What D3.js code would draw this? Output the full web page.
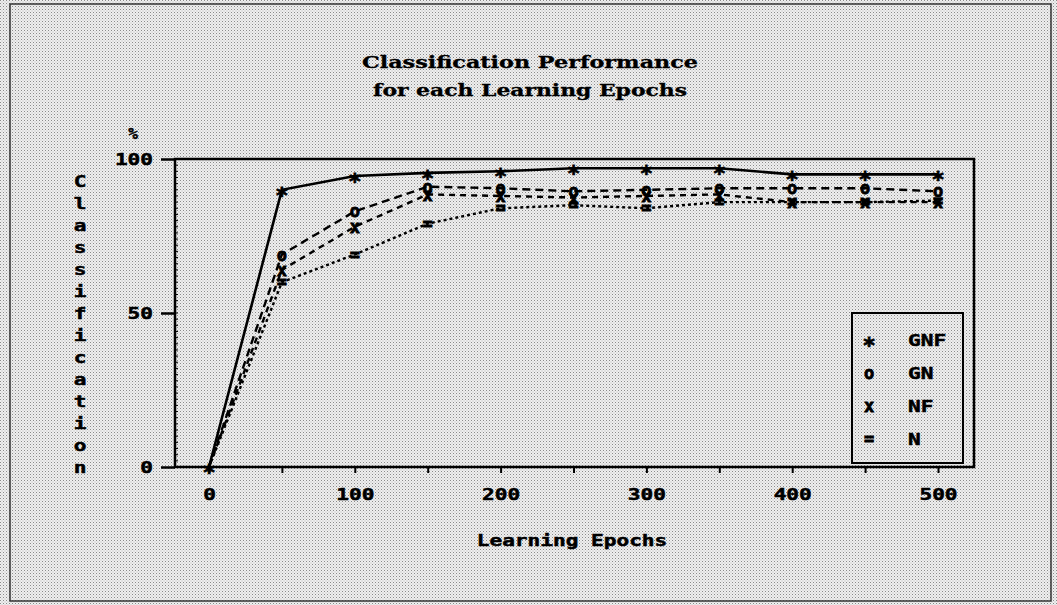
<!DOCTYPE html>
<html lang="en">
<head>
  <meta charset="UTF-8">
  <title>Classification Performance</title>
  <script src="https://d3js.org/d3.v7.min.js"></script>
  <style>
    body { margin: 0; background: #fff; }
    text { font-family: "DejaVu Sans Mono", "Liberation Mono", monospace; font-weight: bold; fill: #000; stroke: #000; stroke-width: 0.5px; }
    .tick text { font-size: 16px; }
    .title { font-family: "DejaVu Serif", "Liberation Serif", serif; font-size: 16px; text-anchor: middle; stroke-width: 0.3px; }
    .axis-label { font-size: 16px; }
    .mark { stroke-width: 0.8px; }
  </style>
</head>
<body>
  <svg id="chart" width="1057" height="605"></svg>

  <script>
    // Data
    const epochs = [0, 50, 100, 150, 200, 250, 300, 350, 400, 450, 500];
    const gnf = [0, 90, 94.5, 95.5, 96, 97, 97, 97, 95, 95, 95];
    const gn = [0, 69, 83, 91, 90.5, 89.5, 90, 90.5, 90.5, 90.5, 89.5];
    const nf = [0, 64, 78, 88.5, 88, 87.5, 88, 88.5, 86, 86, 86];
    const n = [0, 60, 69, 79, 84, 85, 84, 86, 86, 86, 86.5];
    const seriesNames = ["GNF", "GN", "NF", "N"];
    const seriesMarks = ["*", "o", "x", "="];
    const xTicks = [0, 50, 100, 150, 200, 250, 300, 350, 400, 450, 500];
    const yTicks = [0, 50, 100];

    const series = [
      { name: seriesNames[0], mark: seriesMarks[0], values: gnf, dash: null, width: 2.6 },
      { name: seriesNames[1], mark: seriesMarks[1], values: gn, dash: "8,5", width: 2.4 },
      { name: seriesNames[2], mark: seriesMarks[2], values: nf, dash: "6,5", width: 2.4 },
      { name: seriesNames[3], mark: seriesMarks[3], values: n, dash: "3,3", width: 2.4 }
    ];

    const charW = 12.7; // the old bitmap font is wide

    const svg = d3.select("#chart");

    // halftone-ish background
    const pat = svg.append("defs").append("pattern")
      .attr("id", "dots").attr("width", 3).attr("height", 3)
      .attr("patternUnits", "userSpaceOnUse");
    pat.append("rect").attr("width", 3).attr("height", 3).attr("fill", "#efefef");
    pat.append("rect").attr("x", 0).attr("y", 0).attr("width", 1).attr("height", 1).attr("fill", "#8a8a8a");
    pat.append("rect").attr("x", 1.5).attr("y", 1.5).attr("width", 1).attr("height", 1).attr("fill", "#b4b4b4");

    svg.append("rect").attr("width", 1057).attr("height", 605).attr("fill", "url(#dots)");
    svg.append("rect")
      .attr("x", 10).attr("y", 4).attr("width", 1041).attr("height", 597)
      .attr("fill", "none").attr("stroke", "#333").attr("stroke-width", 1.5);

    const frame = { left: 175, right: 974, top: 159, bottom: 467 };

    const x = d3.scaleLinear().domain([0, 500]).range([209, 938]);
    const y = d3.scaleLinear().domain([0, 100]).range([frame.bottom, frame.top]);

    function widen(sel) {
      sel.filter(function () { return this.textContent.length > 0; })
        .attr("textLength", function () { return this.textContent.length * charW; })
        .attr("lengthAdjust", "spacingAndGlyphs");
    }

    // Title
    svg.append("text").attr("class", "title").attr("x", 530).attr("y", 68)
      .attr("textLength", 336).attr("lengthAdjust", "spacingAndGlyphs")
      .text("Classification Performance");
    svg.append("text").attr("class", "title").attr("x", 530).attr("y", 96)
      .attr("textLength", 314).attr("lengthAdjust", "spacingAndGlyphs")
      .text("for each Learning Epochs");

    // Frame
    svg.append("path")
      .attr("d", `M${frame.left},${frame.top}H${frame.right}V${frame.bottom}H${frame.left}Z`)
      .attr("fill", "none").attr("stroke", "#000").attr("stroke-width", 2.5);

    // minor ticks on the inside of the y axis
    svg.append("g").selectAll("line")
      .data(d3.range(2, 100, 2))
      .join("line")
      .attr("x1", frame.left).attr("x2", frame.left + 3)
      .attr("y1", (d) => y(d)).attr("y2", (d) => y(d))
      .attr("stroke", "#000").attr("stroke-width", 1);

    // Y axis
    const yAxis = svg.append("g")
      .attr("transform", `translate(${frame.left},0)`)
      .call(d3.axisLeft(y).tickValues(yTicks).tickSize(14).tickPadding(8).tickFormat(d3.format("d")));
    yAxis.select(".domain").remove();
    yAxis.selectAll(".tick line").attr("stroke-width", 2.5);
    yAxis.selectAll(".tick text").attr("dy", "0.35em").call(widen);

    // X axis
    const xAxis = svg.append("g")
      .attr("transform", `translate(0,${frame.bottom})`)
      .call(d3.axisBottom(x).tickValues(xTicks).tickSize(6).tickPadding(16)
        .tickFormat((d) => (d % 100 === 0 ? d : "")));
    xAxis.select(".domain").remove();
    xAxis.selectAll(".tick line").attr("stroke-width", 2);
    xAxis.selectAll(".tick text").call(widen);

    // Axis labels
    svg.append("text").attr("class", "axis-label")
      .attr("x", 133).attr("y", 139).attr("text-anchor", "middle").text("%");

    svg.append("text").attr("class", "axis-label")
      .attr("x", 572).attr("y", 546).attr("text-anchor", "middle")
      .text("Learning Epochs")
      .call(widen);

    const yLabel = "Classification".split("");
    svg.append("g").selectAll("text")
      .data(yLabel)
      .join("text")
      .attr("class", "axis-label")
      .attr("x", 80)
      .attr("y", (d, i) => 187 + i * 22)
      .attr("text-anchor", "middle")
      .text((d) => d)
      .call(widen);

    // Lines
    const line = d3.line()
      .x((d, i) => x(epochs[i]))
      .y((d) => y(d));

    svg.append("g").selectAll("path")
      .data(series)
      .join("path")
      .attr("d", (s) => line(s.values))
      .attr("fill", "none")
      .attr("stroke", "#000")
      .attr("stroke-width", (s) => s.width)
      .attr("stroke-dasharray", (s) => s.dash);

    // Markers (the shared start point at 0 gets only one)
    function markAttrs(sel, mark) {
      sel.attr("class", "mark")
        .attr("text-anchor", "middle")
        .attr("dy", mark === "*" ? "0.58em" : "0.36em")
        .style("font-size", mark === "*" ? "22px" : "17px");
    }

    series.forEach((s, k) => {
      const pts = s.values.map((v, i) => ({ e: epochs[i], v: v }))
        .filter((p) => k === 0 || p.e > 0);
      svg.append("g").selectAll("text")
        .data(pts)
        .join("text")
        .attr("x", (d) => x(d.e))
        .attr("y", (d) => y(d.v))
        .call(markAttrs, s.mark)
        .text(s.mark);
    });

    // Legend
    svg.append("rect")
      .attr("x", 852).attr("y", 313).attr("width", 111).attr("height", 150)
      .attr("fill", "none").attr("stroke", "#000").attr("stroke-width", 2);

    const legend = svg.append("g").selectAll("g")
      .data(series)
      .join("g")
      .attr("transform", (s, i) => `translate(0,${340 + i * 33})`);
    legend.append("text")
      .attr("x", 869)
      .each(function (s) { d3.select(this).call(markAttrs, s.mark); })
      .text((s) => s.mark);
    legend.append("text")
      .attr("x", 908).attr("dy", "0.35em")
      .style("font-size", "16px")
      .text((s) => s.name)
      .call(widen);
  </script>
</body>
</html>
